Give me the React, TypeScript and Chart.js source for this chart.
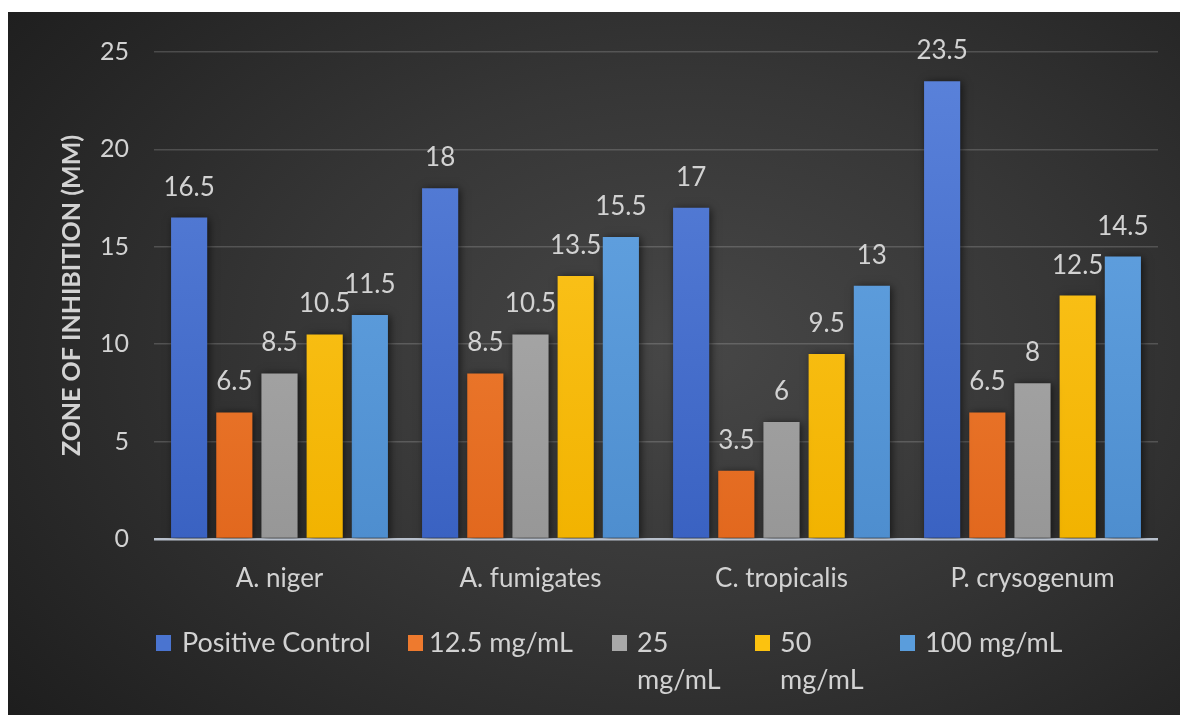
import React, { useEffect, useRef } from "react";
import { Chart, registerables } from "chart.js";

Chart.register(...registerables);

// ---- data ----
const categories = ["A. niger", "A. fumigates", "C. tropicalis", "P. crysogenum"];
const seriesNames = ["Positive Control", "12.5 mg/mL", "25 mg/mL", "50 mg/mL", "100 mg/mL"];
const positiveControl = [16.5, 18, 17, 23.5];
const conc12_5 = [6.5, 8.5, 3.5, 6.5];
const conc25 = [8.5, 10.5, 6, 8];
const conc50 = [10.5, 13.5, 9.5, 12.5];
const conc100 = [11.5, 15.5, 13, 14.5];
const yMin = 0;
const yMax = 25;
const yStep = 5;
const yTitle = "ZONE OF INHIBITION (MM)";

// ---- styles ----
const seriesColors: [string, string][] = [
  ["#5b83db", "#3a62c2"],
  ["#f68b3e", "#e2681e"],
  ["#b5b5b5", "#979797"],
  ["#ffca2a", "#f2b300"],
  ["#68a8e6", "#4e8ecf"],
];
const legendSwatch = ["#4a74d0", "#ee7a2e", "#a8a8a8", "#fcc20f", "#5a9ddc"];
const legendBoxLeft = [148, 400, 604, 747, 892];
const legendTextLeft = [174, 421, 629, 772, 917];
const legendTextWidth = [230, 180, 105, 105, 230];

const FONT = "Lato, 'Open Sans', sans-serif";
const TEXT = "#d2d2d2";

const allSeries = [positiveControl, conc12_5, conc25, conc50, conc100];

export default function App() {
  const canvasRef = useRef<HTMLCanvasElement | null>(null);

  useEffect(() => {
    const canvas = canvasRef.current;
    if (!canvas) return;

    const shadowPlugin = {
      id: "barShadow",
      beforeDatasetsDraw(chart: any) {
        const c = chart.ctx;
        c.save();
        c.shadowColor = "rgba(0,0,0,0.6)";
        c.shadowBlur = 8;
        c.shadowOffsetX = 2;
        c.shadowOffsetY = 1;
      },
      afterDatasetsDraw(chart: any) {
        chart.ctx.restore();
      },
    };

    const labelPlugin = {
      id: "valueLabels",
      afterDraw(chart: any) {
        const c = chart.ctx;
        c.save();
        c.font = `26px ${FONT}`;
        c.fillStyle = TEXT;
        c.textAlign = "center";
        c.textBaseline = "alphabetic";
        chart.data.datasets.forEach((ds: any, di: number) => {
          const meta = chart.getDatasetMeta(di);
          meta.data.forEach((bar: any, i: number) => {
            const v = ds.data[i];
            c.fillText(String(v), bar.x, bar.y - 22);
          });
        });
        c.restore();
      },
    };

    const chart = new Chart(canvas, {
      type: "bar",
      data: {
        labels: categories,
        datasets: allSeries.map((d, i) => ({
          label: seriesNames[i],
          data: d,
          backgroundColor: (ctx: any) => {
            const area = ctx.chart.chartArea;
            if (!area) return seriesColors[i][0];
            const g = ctx.chart.ctx.createLinearGradient(0, area.top, 0, area.bottom);
            g.addColorStop(0, seriesColors[i][0]);
            g.addColorStop(1, seriesColors[i][1]);
            return g;
          },
          borderWidth: 0,
          categoryPercentage: 0.9,
          barPercentage: 0.8,
        })),
      },
      options: {
        responsive: false,
        animation: false,
        layout: { padding: { left: 0, right: 22, top: 37, bottom: 0 } },
        plugins: {
          legend: { display: false },
          tooltip: { enabled: false },
        },
        scales: {
          x: {
            grid: { display: false, drawTicks: false },
            border: { display: false },
            ticks: {
              color: TEXT,
              font: { family: FONT, size: 26 },
              padding: 24,
            },
            afterFit(scale: any) {
              scale.height = 176;
            },
          },
          y: {
            min: yMin,
            max: yMax,
            ticks: {
              stepSize: yStep,
              color: TEXT,
              font: { family: FONT, size: 25 },
              padding: 25,
            },
            grid: {
              drawTicks: false,
              color: (ctx: any) => (ctx.tick && ctx.tick.value === 0 ? "#b8c0cc" : "rgba(255,255,255,0.17)"),
              lineWidth: (ctx: any) => (ctx.tick && ctx.tick.value === 0 ? 2.5 : 1.5),
            },
            border: { display: false },
            title: {
              display: true,
              text: yTitle,
              color: TEXT,
              font: { family: FONT, size: 25, weight: "bold" },
              padding: { top: 49, bottom: 0 },
            },
            afterFit(scale: any) {
              scale.width = 146;
            },
          },
        },
      },
      plugins: [shadowPlugin, labelPlugin],
    });

    return () => chart.destroy();
  }, []);

  return (
    <div
      style={{
        position: "fixed",
        left: 8,
        top: 12,
        width: 1172,
        height: 703,
        overflow: "hidden",
        background:
          "radial-gradient(ellipse 75% 85% at 58% 48%, #474747 0%, #363636 45%, #262626 80%, #1d1d1d 100%)",
      }}
    >
      <canvas ref={canvasRef} width={1172} height={703} style={{ display: "block" }} />
      {seriesNames.map((name, i) => (
        <div key={name}>
          <div
            style={{
              position: "absolute",
              left: legendBoxLeft[i],
              top: 623,
              width: 15,
              height: 16,
              background: legendSwatch[i],
            }}
          />
          <div
            style={{
              position: "absolute",
              left: legendTextLeft[i],
              top: 611,
              width: legendTextWidth[i],
              fontFamily: FONT,
              fontSize: 27,
              lineHeight: "37px",
              color: TEXT,
              whiteSpace: "normal",
            }}
          >
            {name}
          </div>
        </div>
      ))}
    </div>
  );
}
